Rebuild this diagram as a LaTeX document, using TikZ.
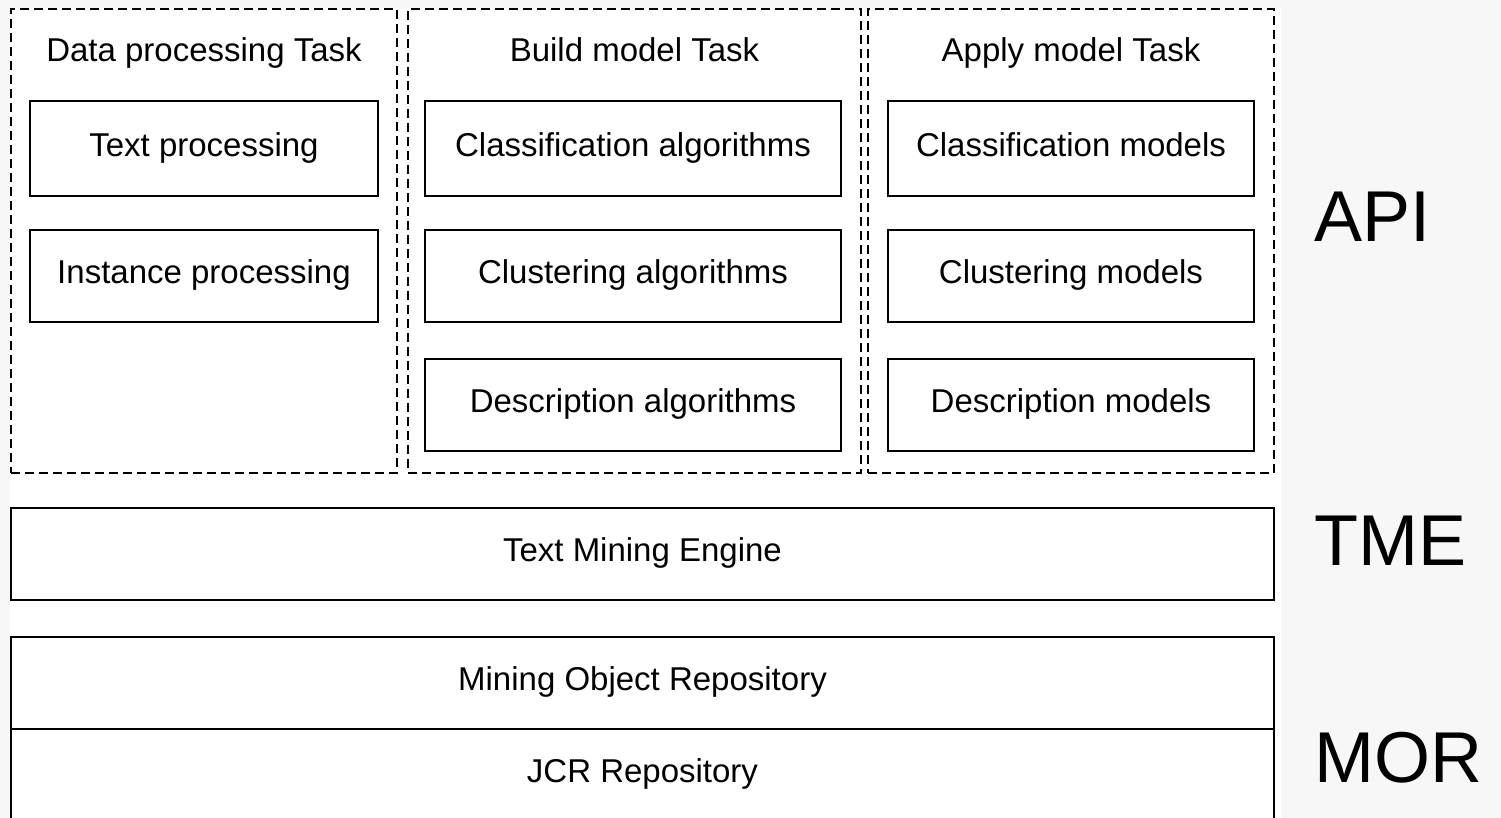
\documentclass[tikz,border=0pt]{standalone}
\usepackage{fontspec}
\setmainfont{Liberation Sans}
\definecolor{pagegray}{HTML}{F7F7F7}
\begin{document}
\begin{tikzpicture}[x=0.5pt,y=-0.5pt,
  taskframe/.style={draw, line width=1pt, dash pattern=on 4.5pt off 2.5pt,
    inner sep=0pt, outer sep=0pt},
  modbox/.style={draw, line width=1pt, inner sep=0pt, outer sep=0pt,
    font=\fontsize{16.5pt}{18pt}\selectfont, text height=11.8pt, text depth=4pt},
  tasktitle/.style={inner sep=0pt,
    font=\fontsize{16.5pt}{18pt}\selectfont, text height=11.8pt, text depth=4pt},
  layerlabel/.style={inner sep=0pt, anchor=base west,
    font=\fontsize{36pt}{40pt}\selectfont}]
  % page and drawing area
  \fill[pagegray] (0,0) rectangle (1501,818);
  \fill[white] (10,8) rectangle (1281,818);
  \useasboundingbox (0,0) rectangle (1501,818);
  \clip (0,0) rectangle (1501,818);

  % task frames
  \node[taskframe, minimum width=193pt, minimum height=232pt] (dpf) at (204,241) {};
  \node[taskframe, minimum width=226.5pt, minimum height=232pt] (bmf) at (634.5,241) {};
  \node[taskframe, minimum width=203pt, minimum height=232pt] (amf) at (1071,241) {};

  \node[tasktitle] (dpt) at (204,54) {Data processing Task};
  \node[tasktitle] (bmt) at (634.5,54) {Build model Task};
  \node[tasktitle] (amt) at (1071,54) {Apply model Task};

  % data processing
  \node[modbox, minimum width=174pt, minimum height=47.5pt] (tp) at (204,148.5) {Text processing};
  \node[modbox, minimum width=174pt, minimum height=46pt] (ip) at (204,276) {Instance processing};

  % build model
  \node[modbox, minimum width=208pt, minimum height=47.5pt] (ca) at (633,148.5) {Classification algorithms};
  \node[modbox, minimum width=208pt, minimum height=46pt] (cla) at (633,276) {Clustering algorithms};
  \node[modbox, minimum width=208pt, minimum height=46pt] (da) at (633,405) {Description algorithms};

  % apply model
  \node[modbox, minimum width=183pt, minimum height=47.5pt] (cm) at (1071,148.5) {Classification models};
  \node[modbox, minimum width=183pt, minimum height=46pt] (clm) at (1071,276) {Clustering models};
  \node[modbox, minimum width=183pt, minimum height=46pt] (dm) at (1071,405) {Description models};

  % engine and repositories
  \node[modbox, minimum width=631.5pt, minimum height=46pt] (tme) at (642.5,554) {Text Mining Engine};
  \node[modbox, minimum width=631.5pt, minimum height=46pt] (mor) at (642.5,683) {Mining Object Repository};
  \node[modbox, minimum width=631.5pt, minimum height=46pt] (jcr) at (642.5,775) {JCR Repository};

  % layer labels
  \node[layerlabel] (api) at (1314,242) {API};
  \node[layerlabel] (tmel) at (1314,566) {TME};
  \node[layerlabel] (morl) at (1314,782) {MOR};
\end{tikzpicture}
\end{document}
